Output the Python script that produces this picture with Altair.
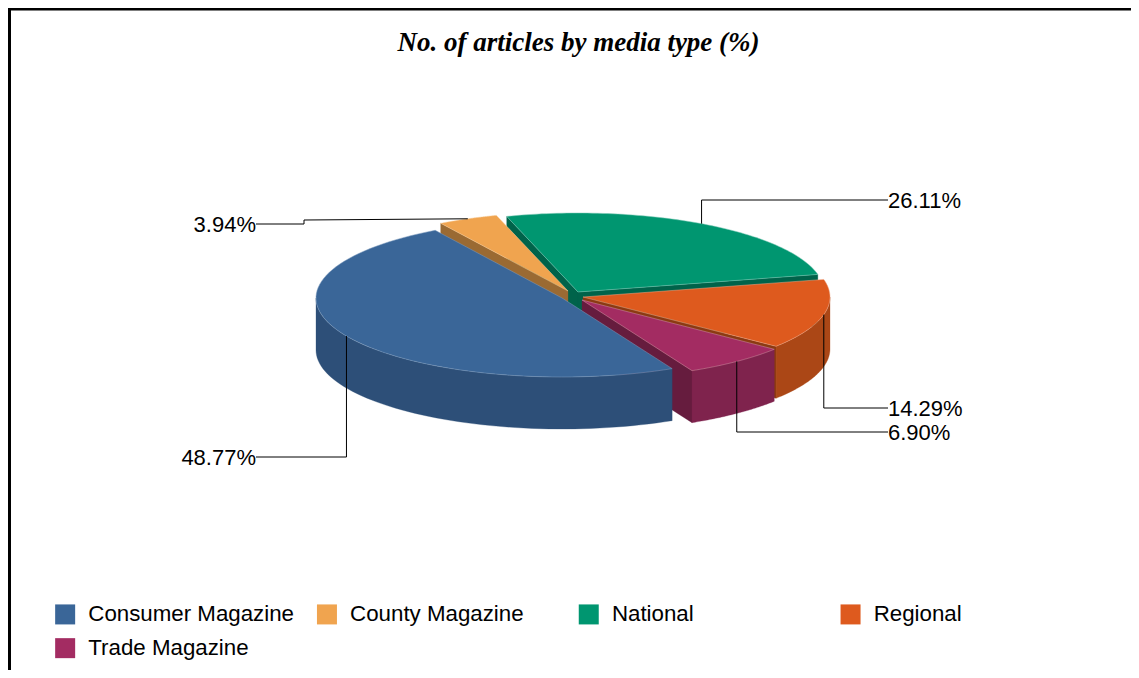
import numpy as np
import pandas as pd
import altair as alt

categories = ["Consumer Magazine", "County Magazine", "National", "Regional", "Trade Magazine"]
shares = [48.77, 3.94, 26.11, 14.29, 6.90]
labels = ["48.77%", "3.94%", "26.11%", "14.29%", "6.90%"]
top_colors = ["#3A6698", "#F0A44F", "#009670", "#DE5A1E", "#A32C62"]
rim_colors = ["#2D4F78", "#9A6A33", "#00694F", "#AB4716", "#7F234D"]
face_colors = ["#2D4F78", "#9A6A33", "#00634A", "#8B3A12", "#661C3E"]
edge_colors = ["#7F9DBF", "#F7CB96", "#7FCBB7", "#EFA98A", "#D195B0"]
apex_x = [562, 568, 578, 583, 582]
apex_y = [298, 291, 292, 297, 300]
radius_x = [246, 247, 246, 247, 246]
elbow_y = [457, 220, 200, 408, 432]
label_x = [256, 256, 888, 888, 888]
label_y = [457, 224, 200, 408, 432]

W, H = 1123, 662
RY, DEPTH = 79, 52
START = 153.4

sx = alt.Scale(domain=[8, 8 + W], nice=False, zero=False)
sy = alt.Scale(domain=[8 + H, 8], nice=False, zero=False)
X = alt.X("x:Q", scale=sx, axis=None)
Y = alt.Y("y:Q", scale=sy, axis=None)


def rim(k, t, dz=0):
    r = np.radians(t)
    return apex_x[k] + radius_x[k] * np.sin(r), apex_y[k] - RY * np.cos(r) + dz


def poly(points, fill, stroke=None, sw=0.6):
    points = list(points) + [points[0]]
    df = pd.DataFrame({"x": [p[0] for p in points], "y": [p[1] for p in points], "i": range(len(points))})
    return alt.Chart(df).mark_line(filled=True, fill=fill, stroke=stroke or fill, strokeWidth=sw).encode(
        x=X, y=Y, order=alt.Order("i:Q"))


# slice angles, clockwise from the top, from the shares
starts, ends, t0 = [], [], START
for s in shares:
    starts.append(t0)
    t0 += s * 3.6
    ends.append(t0)

layers = []


def inner_wall(k, t, color):
    a, b = rim(k, t), rim(k, t, DEPTH)
    c = (apex_x[k], apex_y[k] + DEPTH)
    d = (apex_x[k], apex_y[k])
    return poly([a, b, c, d], color, sw=0.3)


def outer_wall(k, color):
    lo, hi = max(starts[k], 90), min(ends[k], 270)
    if starts[k] > 270:
        lo, hi = max(starts[k] - 360, 90), min(ends[k] - 360, 270)
    if hi <= lo:
        return None
    ts = np.linspace(lo, hi, 60)
    pts = [rim(k, t) for t in ts] + [rim(k, t, DEPTH) for t in ts[::-1]]
    return poly(pts, color, sw=0.3)


def top(k):
    ts = np.linspace(starts[k], ends[k], 80)
    pts = [(apex_x[k], apex_y[k])] + [rim(k, t) for t in ts]
    return poly(pts, top_colors[k], edge_colors[k], 0.5)


# back to front: National, County, Regional, Trade, Consumer
wall_side = {2: [starts[2], ends[2]], 1: [starts[1]], 3: [ends[3]], 4: [ends[4]], 0: []}
for k in [2, 1, 3, 4, 0]:
    for t in wall_side[k]:
        layers.append(inner_wall(k, t, face_colors[k]))
    w = outer_wall(k, rim_colors[k])
    if w is not None:
        layers.append(w)
    layers.append(top(k))

# leader lines start at the middle of each slice's rim
for k in range(5):
    mid = (starts[k] + ends[k]) / 2
    mx, my = rim(k, mid)
    pts = [(mx, my), (mx, elbow_y[k])]
    if k == 1:
        pts = [(mx, my), (304, elbow_y[k]), (304, label_y[k])]
    pts.append((label_x[k], label_y[k]))
    df = pd.DataFrame({"x": [p[0] for p in pts], "y": [p[1] for p in pts], "i": range(len(pts))})
    layers.append(alt.Chart(df).mark_line(color="#000000", strokeWidth=1).encode(
        x=X, y=Y, order=alt.Order("i:Q")))

lab = pd.DataFrame({"x": label_x, "y": [v + 1 for v in label_y], "t": labels})
for align, sub in lab.groupby(lab["x"] > 500):
    layers.append(alt.Chart(sub).mark_text(
        align="left" if align else "right", baseline="middle", font="Liberation Sans",
        fontSize=22, color="#000000").encode(x=X, y=Y, text="t:N"))

# chart title
layers.append(alt.Chart(pd.DataFrame({"x": [578.5], "y": [43], "t": ["No. of articles by media type (%)"]})).mark_text(
    align="center", baseline="middle", font="Liberation Serif", fontStyle="italic", fontWeight="bold",
    fontSize=27, color="#000000").encode(x=X, y=Y, text="t:N"))

# outer frame
layers.append(alt.Chart(pd.DataFrame({"x": [9.5, 9.5, 1131], "y": [670, 9, 9], "i": [0, 1, 2]})).mark_line(
    color="#000000", strokeWidth=3).encode(x=X, y=Y, order=alt.Order("i:Q")))

# legend
leg = pd.DataFrame({"cat": categories, "x": apex_x, "y": apex_y})
layers.append(alt.Chart(leg).mark_square(size=0, opacity=0).encode(
    x=X, y=Y,
    fill=alt.Fill("cat:N", scale=alt.Scale(domain=categories, range=top_colors),
                  legend=alt.Legend(title=None, orient="none", legendX=46, legendY=595, columns=4,
                                    direction="horizontal",
                                    symbolType="square", symbolSize=400, symbolOpacity=1,
                                    symbolStrokeWidth=0, labelFont="Liberation Sans", labelFontSize=22.3,
                                    labelColor="#000000", labelOffset=12, columnPadding=20.8, rowPadding=11,
                                    gridAlign="all", labelLimit=400))))

chart = alt.layer(*layers).resolve_scale(x="shared", y="shared").properties(
    width=W, height=H, padding=0, autosize=alt.AutoSizeParams(type="none"),
).configure_view(stroke=None).configure(background="white")

chart.save("out.html", embed_options={"renderer": "svg", "actions": False})
